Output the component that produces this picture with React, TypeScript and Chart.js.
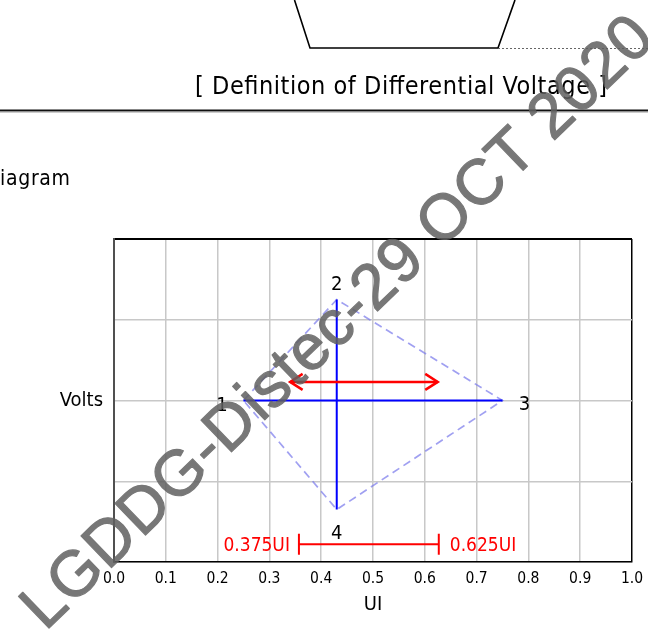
import React, { useEffect, useRef } from "react";
import { Chart, registerables } from "chart.js";

Chart.register(...registerables);

// ---------- data ----------
const xTickLabels = ["0.0", "0.1", "0.2", "0.3", "0.4", "0.5", "0.6", "0.7", "0.8", "0.9", "1.0"];
const xMin = 0;
const xMax = 1;
const yMin = -2;
const yMax = 2;

// eye diamond (vertices 1 -> 2 -> 3 -> 4 -> 1)
const diamondX = [0.25, 0.43, 0.75, 0.43, 0.25];
const diamondY = [0, 1.25, 0, -1.35, 0];
const vertexLabels = ["1", "2", "3", "4"];

// solid blue cross
const hLineX = [0.25, 0.75];
const hLineY = [0, 0];
const vLineX = [0.43, 0.43];
const vLineY = [1.25, -1.35];

// red double arrow
const arrowX = [0.34, 0.625];
const arrowY = [0.23, 0.23];

// red range bar
const rangeX = [0.357, 0.627];
const rangeY = [-1.78, -1.78];
const rangeLabels = ["0.375UI", "0.625UI"];

const xTitle = "UI";
const yTitle = "Volts";
const pageTitle = "[ Definition of Differential Voltage ]";
const sectionText = "iagram";
const watermark = "LGDDG-Distec-29 OCT 2020";

// ---------- styles ----------
const FONT = '"DejaVu Sans Condensed", "DejaVu Sans", sans-serif';
const RED = "#ff0000";
const BLUE = "#0000ff";

const toPts = (xs: number[], ys: number[]) => xs.map((x, i) => ({ x, y: ys[i] }));

const overlayPlugin = {
  id: "overlay",
  afterDatasetsDraw(chart: any) {
    const ctx = chart.ctx;
    const xs = chart.scales.x;
    const ys = chart.scales.y;
    ctx.save();

    // arrow heads
    const ax0 = xs.getPixelForValue(arrowX[0]);
    const ax1 = xs.getPixelForValue(arrowX[1]);
    const ay0 = ys.getPixelForValue(arrowY[0]);
    const ay1 = ys.getPixelForValue(arrowY[1]);
    ctx.strokeStyle = RED;
    ctx.lineWidth = 2.5;
    ctx.lineJoin = "miter";
    ctx.beginPath();
    ctx.moveTo(ax0 + 12.5, ay0 - 8);
    ctx.lineTo(ax0, ay0);
    ctx.lineTo(ax0 + 12.5, ay0 + 8);
    ctx.moveTo(ax1 - 12.5, ay1 - 8);
    ctx.lineTo(ax1, ay1);
    ctx.lineTo(ax1 - 12.5, ay1 + 8);
    ctx.stroke();

    // vertex labels
    const offs = [
      [-21.5, 10.7],
      [0, -10],
      [22, 9],
      [0, 29.3],
    ];
    ctx.fillStyle = "#000";
    ctx.font = `20px ${FONT}`;
    ctx.textAlign = "center";
    ctx.textBaseline = "alphabetic";
    vertexLabels.forEach((lab, i) => {
      const px = xs.getPixelForValue(diamondX[i]) + offs[i][0];
      const py = ys.getPixelForValue(diamondY[i]) + offs[i][1];
      ctx.fillText(lab, px, py);
    });

    // range labels
    ctx.fillStyle = RED;
    ctx.font = `19px ${FONT}`;
    const rx0 = xs.getPixelForValue(rangeX[0]);
    const rx1 = xs.getPixelForValue(rangeX[1]);
    const ry = ys.getPixelForValue(rangeY[0]);
    ctx.textAlign = "right";
    ctx.fillText(rangeLabels[0], rx0 - 9, ry + 7);
    ctx.textAlign = "left";
    ctx.fillText(rangeLabels[1], rx1 + 11, ry + 7);

    ctx.restore();
  },
  afterDraw(chart: any) {
    const ctx = chart.ctx;
    const ys = chart.scales.y;
    ctx.save();
    ctx.fillStyle = "#000";
    ctx.font = `20px ${FONT}`;
    ctx.textAlign = "right";
    ctx.textBaseline = "alphabetic";
    ctx.fillText(yTitle, chart.chartArea.left - 11, ys.getPixelForValue(0) + 5);
    ctx.restore();
  },
};

export default function App() {
  const ref = useRef<HTMLCanvasElement | null>(null);

  useEffect(() => {
    if (!ref.current) return;
    const chart = new Chart(ref.current, {
      type: "scatter",
      data: {
        datasets: [
          {
            label: "eye",
            data: toPts(diamondX, diamondY),
            showLine: true,
            borderColor: "rgba(120,120,235,0.7)",
            borderWidth: 1.7,
            borderDash: [8, 5],
            pointRadius: 0,
            order: 5,
          },
          {
            label: "h",
            data: toPts(hLineX, hLineY),
            showLine: true,
            borderColor: BLUE,
            borderWidth: 2,
            pointRadius: 0,
            order: 3,
          },
          {
            label: "v",
            data: toPts(vLineX, vLineY),
            showLine: true,
            borderColor: BLUE,
            borderWidth: 2,
            pointRadius: 0,
            order: 3,
          },
          {
            label: "arrow",
            data: toPts(arrowX, arrowY),
            showLine: true,
            borderColor: RED,
            borderWidth: 2.5,
            pointRadius: 0,
            order: 1,
          },
          {
            label: "range",
            data: toPts(rangeX, rangeY),
            showLine: true,
            borderColor: RED,
            borderWidth: 2,
            pointStyle: "line",
            rotation: 90,
            pointRadius: 10.5,
            pointBorderWidth: 2,
            pointBorderColor: RED,
            order: 1,
          },
        ],
      },
      options: {
        animation: false,
        responsive: false,
        maintainAspectRatio: false,
        devicePixelRatio: 1,
        layout: { padding: { left: 114, top: 239, right: 16, bottom: 0 } },
        plugins: {
          legend: { display: false },
          tooltip: { enabled: false },
        },
        scales: {
          x: {
            type: "linear",
            min: xMin,
            max: xMax,
            afterFit: (s: any) => {
              s.height = 72;
              s.paddingLeft = 0;
              s.paddingRight = 0;
            },
            ticks: {
              stepSize: 0.1,
              padding: 8,
              color: "#000",
              font: { family: FONT, size: 15.5 },
              maxRotation: 0,
              autoSkip: false,
              callback: (_v: any, i: number) => xTickLabels[i],
            },
            grid: {
              drawTicks: false,
              color: (c: any) => (c.tick && Math.abs(c.tick.value - xMax) < 1e-6 ? "#000" : "#c8c8c8"),
              lineWidth: 1.5,
            },
            border: { display: true, color: "#000", width: 1.5 },
            title: {
              display: true,
              text: xTitle,
              color: "#000",
              font: { family: FONT, size: 20 },
              padding: { top: 0, bottom: 17 },
            },
          },
          y: {
            type: "linear",
            min: yMin,
            max: yMax,
            afterFit: (s: any) => {
              s.width = 0;
              s.paddingTop = 0;
              s.paddingBottom = 0;
            },
            ticks: { display: false, stepSize: 1 },
            grid: {
              drawTicks: false,
              color: (c: any) => (c.tick && Math.abs(c.tick.value - yMax) < 1e-6 ? "#000" : "#c8c8c8"),
              lineWidth: (c: any) => (c.tick && Math.abs(c.tick.value - yMax) < 1e-6 ? 2 : 1.5),
            },
            border: { display: true, color: "#505050", width: 2 },
          },
        },
      },
      plugins: [overlayPlugin],
    } as any);
    return () => chart.destroy();
  }, []);

  return (
    <div style={{ position: "absolute", left: 0, top: 0, width: 648, height: 634, overflow: "hidden", background: "#fff" }}>
      <canvas ref={ref} width={648} height={634} style={{ position: "absolute", left: 0, top: 0, width: 648, height: 634 }} />
      <svg width={648} height={634} style={{ position: "absolute", left: 0, top: 0, pointerEvents: "none" }}>
        <polyline points="294.5,0 310,48 498,48 515,0" fill="none" stroke="#000" strokeWidth={1.6} />
        <line x1={498} y1={48.5} x2={648} y2={48.5} stroke="#666" strokeWidth={1.2} strokeDasharray="2,2" />
        <text x={195} y={94} fontFamily={FONT} fontSize={25} fill="#000" textLength={412} lengthAdjust="spacing">
          {pageTitle}
        </text>
        <rect x={0} y={109.5} width={648} height={2} fill="#111" />
        <rect x={0} y={111.5} width={648} height={1} fill="#999" />
        <text x={0} y={185} fontFamily={FONT} fontSize={21} fill="#000" textLength={70} lengthAdjust="spacing">
          {sectionText}
        </text>
        <g opacity={0.85}>
          <text
            x={335}
            y={343}
            transform="rotate(-44 335 320)"
            textAnchor="middle"
            fontFamily='"Liberation Sans", Arial, sans-serif'
            fontSize={64}
            fill="#606060"
            stroke="#606060"
            strokeWidth={1.2}
            strokeLinejoin="round"
            textLength={850}
            lengthAdjust="spacing"
          >
            {watermark}
          </text>
        </g>
      </svg>
    </div>
  );
}
